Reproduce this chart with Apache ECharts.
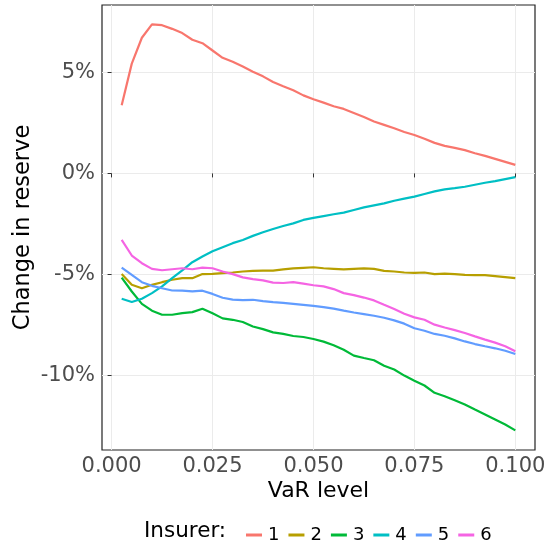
<!DOCTYPE html>
<html>
<head>
<meta charset="utf-8">
<script src="https://cdn.jsdelivr.net/npm/echarts@6/dist/echarts.min.js"></script>
<style>
html,body{margin:0;padding:0;background:#fff;}
#chart{width:558px;height:548px;}
</style>
</head>
<body>
<div id="chart"></div>
<script>
// VaR levels (x)
var varLevels = [0.0025,0.005,0.0075,0.01,0.0125,0.015,0.0175,0.02,0.0225,0.025,
  0.0275,0.03,0.0325,0.035,0.0375,0.04,0.0425,0.045,0.0475,
  0.05,0.0525,0.055,0.0575,0.06,0.0625,0.065,0.0675,0.07,0.0725,0.075,
  0.0775,0.08,0.0825,0.085,0.0875,0.09,0.0925,0.095,0.0975,0.1];

// Change in reserve (%) per insurer
var insurer1 = [3.37,5.43,6.71,7.37,7.33,7.15,6.94,6.61,6.44,6.08,
  5.72,5.52,5.29,5.03,4.80,4.52,4.31,4.11,3.86,
  3.67,3.50,3.32,3.19,2.99,2.79,2.57,2.40,2.23,2.05,1.90,
  1.71,1.51,1.36,1.26,1.15,1.00,0.87,0.72,0.57,0.42];
var insurer2 = [-4.98,-5.51,-5.68,-5.51,-5.38,-5.26,-5.18,-5.18,-4.98,-4.97,
  -4.93,-4.90,-4.85,-4.82,-4.81,-4.81,-4.75,-4.70,-4.67,
  -4.64,-4.69,-4.72,-4.75,-4.72,-4.70,-4.72,-4.82,-4.85,-4.90,-4.92,
  -4.90,-4.98,-4.96,-4.98,-5.02,-5.03,-5.03,-5.08,-5.13,-5.18];
var insurer3 = [-5.15,-5.84,-6.45,-6.79,-6.99,-6.99,-6.91,-6.86,-6.69,-6.92,
  -7.17,-7.24,-7.35,-7.57,-7.70,-7.86,-7.94,-8.04,-8.09,
  -8.19,-8.32,-8.50,-8.72,-9.01,-9.13,-9.24,-9.51,-9.70,-10.00,-10.25,
  -10.49,-10.85,-11.02,-11.22,-11.43,-11.68,-11.92,-12.17,-12.42,-12.71];
var insurer4 = [-6.20,-6.36,-6.20,-5.92,-5.59,-5.18,-4.80,-4.39,-4.11,-3.85,
  -3.65,-3.45,-3.29,-3.09,-2.91,-2.75,-2.60,-2.47,-2.30,
  -2.20,-2.11,-2.02,-1.94,-1.81,-1.68,-1.58,-1.48,-1.35,-1.25,-1.15,
  -1.02,-0.89,-0.79,-0.73,-0.66,-0.56,-0.46,-0.38,-0.28,-0.18];
var insurer5 = [-4.66,-5.02,-5.38,-5.56,-5.68,-5.79,-5.80,-5.83,-5.80,-5.96,
  -6.15,-6.24,-6.27,-6.25,-6.32,-6.37,-6.40,-6.45,-6.50,
  -6.55,-6.61,-6.69,-6.79,-6.88,-6.96,-7.04,-7.14,-7.27,-7.43,-7.66,
  -7.78,-7.94,-8.03,-8.16,-8.31,-8.44,-8.55,-8.65,-8.77,-8.93];
var insurer6 = [-3.29,-4.06,-4.44,-4.72,-4.79,-4.74,-4.69,-4.74,-4.66,-4.69,
  -4.85,-4.98,-5.14,-5.23,-5.29,-5.40,-5.42,-5.38,-5.45,
  -5.53,-5.59,-5.72,-5.92,-6.02,-6.14,-6.28,-6.50,-6.71,-6.94,-7.12,
  -7.24,-7.48,-7.62,-7.75,-7.89,-8.06,-8.22,-8.37,-8.55,-8.80];

var seriesNames = ['1','2','3','4','5','6'];
var seriesValues = [insurer1, insurer2, insurer3, insurer4, insurer5, insurer6];
var colors = ['#F8766D','#B79F00','#00BA38','#00BFC4','#619CFF','#F564E3'];

var xTicks = [0, 0.025, 0.05, 0.075, 0.1];
var yTicks = [-10, -5, 0, 5];

var FONT = 'DejaVu Sans';
var chart = echarts.init(document.getElementById('chart'), null, {renderer:'canvas'});

var series = seriesValues.map(function(vals, k){
  return {
    name: seriesNames[k],
    type: 'line',
    showSymbol: false,
    symbol: 'none',
    color: colors[k],
    lineStyle: {width: 2.2, color: colors[k]},
    data: vals.map(function(v, i){ return [varLevels[i], v]; }),
    z: 3 + k,
    animation: false
  };
});

chart.setOption({
  animation: false,
  color: colors,
  grid: {left: 102, right: 23, top: 5, bottom: 98, show: true, borderColor: '#222', borderWidth: 1.2, backgroundColor: '#fff'},
  xAxis: {
    type: 'value',
    min: -0.002375, max: 0.104875,
    name: 'VaR level', nameLocation: 'middle', nameGap: 30, nameMoveOverlap: false,
    nameTextStyle: {fontFamily: FONT, fontSize: 22, color: '#000'},
    axisLine: {show: false},
    axisTick: {show: true, length: 4, lineStyle: {color: '#333'}, customValues: xTicks},
    axisLabel: {fontFamily: FONT, fontSize: 21, color: '#4D4D4D', margin: 6, customValues: xTicks,
      formatter: function(v){ return v.toFixed(3); }},
    splitLine: {show: true, lineStyle: {color: '#EBEBEB', width: 1}}
  },
  yAxis: {
    type: 'value',
    min: -13.68, max: 8.33,
    name: 'Change in reserve', nameLocation: 'middle', nameGap: 67, nameMoveOverlap: false,
    nameTextStyle: {fontFamily: FONT, fontSize: 22.5, color: '#000'},
    axisLine: {show: false},
    axisTick: {show: true, length: 4, lineStyle: {color: '#333'}, customValues: yTicks},
    axisLabel: {fontFamily: FONT, fontSize: 21, color: '#4D4D4D', margin: 7, customValues: yTicks,
      formatter: function(v){ return v + '%'; }},
    splitLine: {show: true, lineStyle: {color: '#EBEBEB', width: 1}}
  },
  legend: {
    data: seriesNames,
    left: 241, top: 521,
    icon: 'rect', itemWidth: 16, itemHeight: 3, itemGap: 9,
    textStyle: {fontFamily: FONT, fontSize: 18, color: '#000', padding: [0,0,0,1]},
    selectedMode: false
  },
  graphic: [{
    type: 'text', left: 144, top: 520,
    style: {text: 'Insurer:', fontFamily: FONT, fontSize: 21.5, fill: '#000'}
  }],
  series: series
});
</script>
</body>
</html>
